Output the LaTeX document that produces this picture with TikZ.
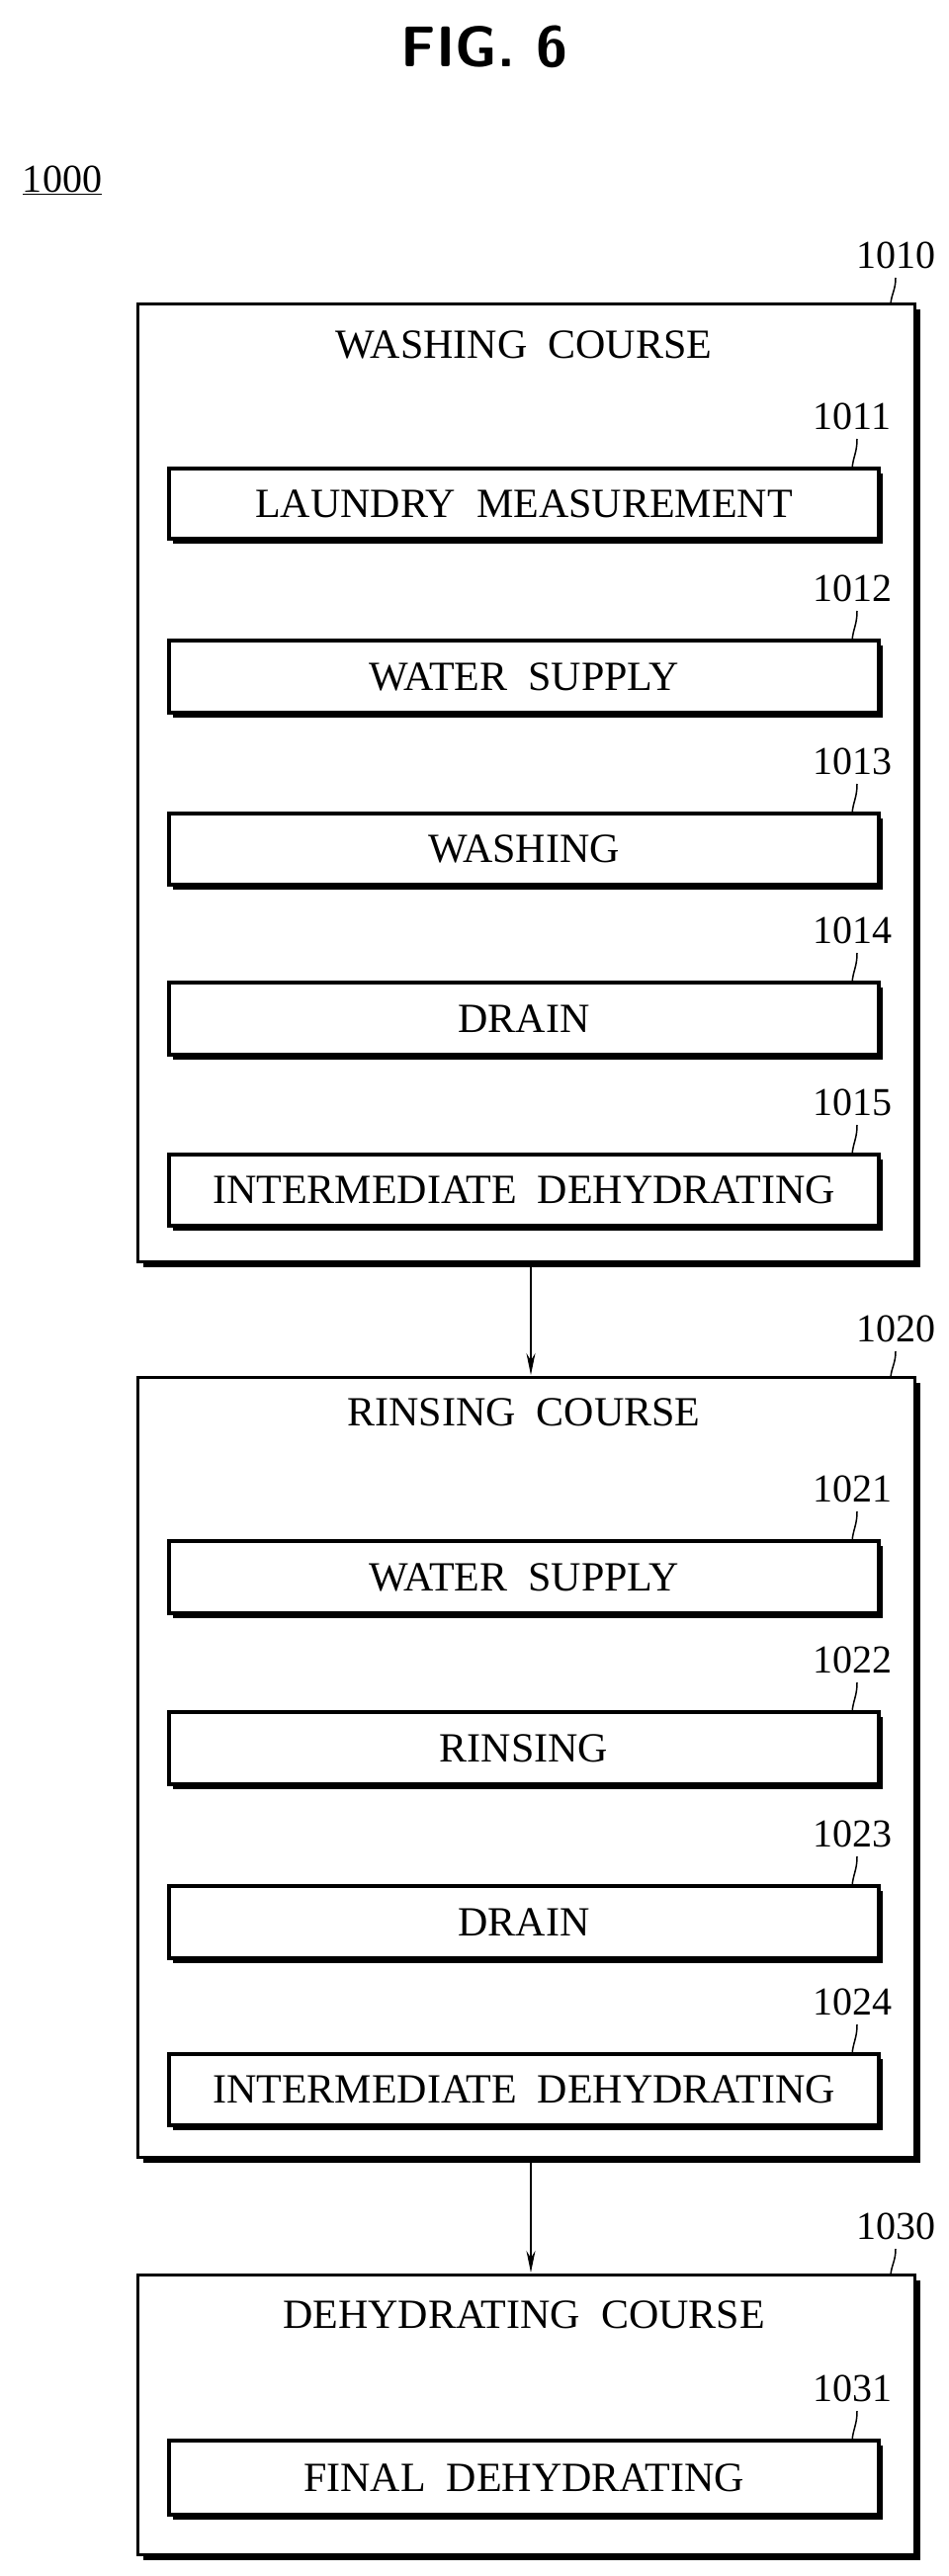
\documentclass[tikz,border=0pt]{standalone}
\usepackage{fontspec}
\setmainfont{Liberation Serif}
\usetikzlibrary{arrows.meta}
\newcommand{\myoutbox}[4]{% x1 y1 x2 y2
  \fill[black] (#1+6,#2+6) rectangle (#3+6,#4+6);
  \draw[line width=3pt,fill=white] (#1,#2) rectangle (#3,#4);}
\newcommand{\myinbox}[4]{% name y1 y2 text
  \fill[black] (175,#2+5) rectangle (893,#3+5);
  \draw[line width=4.5pt,fill=white] (171,#2) rectangle (889,#3);
  \node[txt] (#1) at (530,{(#2+#3)/2}) {#4};}
\begin{document}
\begin{tikzpicture}[x=1pt,y=-1pt,
  txt/.style={font=\fontsize{42}{46}\selectfont, inner sep=0pt},
  num/.style={font=\fontsize{40}{44}\selectfont, inner sep=0pt},
  lead/.style={line width=1.5pt},
  arr/.style={line width=1.5pt,-{Stealth[length=22pt,width=9pt]}}]
\useasboundingbox (0,0) rectangle (959,2606);
\node[font=\sffamily\bfseries\fontsize{58}{60}\selectfont,inner sep=0pt] (fig) at (490,47) {FIG. 6};
\node[num] (ref) at (63,182) {\underline{1000}};
% box 1
\myoutbox{139}{307}{925}{1276}
\node[txt] (At) at (530,349) {WASHING\ \ COURSE};
\myinbox{a1}{474}{545}{LAUNDRY\ \ MEASUREMENT}
\myinbox{a2}{648}{721}{WATER\ \ SUPPLY}
\myinbox{a3}{823}{895}{WASHING}
\myinbox{a4}{994}{1067}{DRAIN}
\myinbox{a5}{1168}{1240}{INTERMEDIATE\ \ DEHYDRATING}
% box 2
\myoutbox{139}{1393}{925}{2182}
\node[txt] (Bt) at (530,1429) {RINSING\ \ COURSE};
\myinbox{b1}{1559}{1632}{WATER\ \ SUPPLY}
\myinbox{b2}{1732}{1805}{RINSING}
\myinbox{b3}{1908}{1981}{DRAIN}
\myinbox{b4}{2078}{2150}{INTERMEDIATE\ \ DEHYDRATING}
% box 3
\myoutbox{139}{2301}{925}{2584}
\node[txt] (Ct) at (530,2342) {DEHYDRATING\ \ COURSE};
\myinbox{c1}{2469}{2544}{FINAL\ \ DEHYDRATING}
% reference numerals and leaders
\foreach \n/\y/\lab in {A/307/1010, B/1393/1020, C/2301/1030}{
  \coordinate (\n c) at (901,\y);
  \node[num] (\n n) at (906,\y-49) {\lab};
  \draw[lead] (906,\y-26) .. controls (906,\y-14) and (902,\y-10) .. (\n c);}
\foreach \n/\y/\lab in {a1/474/1011, a2/648/1012, a3/823/1013, a4/994/1014, a5/1168/1015,
  b1/1559/1021, b2/1732/1022, b3/1908/1023, b4/2078/1024, c1/2469/1031}{
  \coordinate (\n c) at (862,\y);
  \node[num] (\n n) at (862,\y-53) {\lab};
  \draw[lead] (867,\y-30) .. controls (867,\y-16) and (863,\y-12) .. (\n c);}
% arrows
\coordinate (A b) at (537,1279);
\coordinate (B t) at (537,1391);
\coordinate (B b) at (537,2185);
\coordinate (C t) at (537,2299);
\draw[arr] (A b) -- (B t);
\draw[arr] (B b) -- (C t);
\end{tikzpicture}
\end{document}
